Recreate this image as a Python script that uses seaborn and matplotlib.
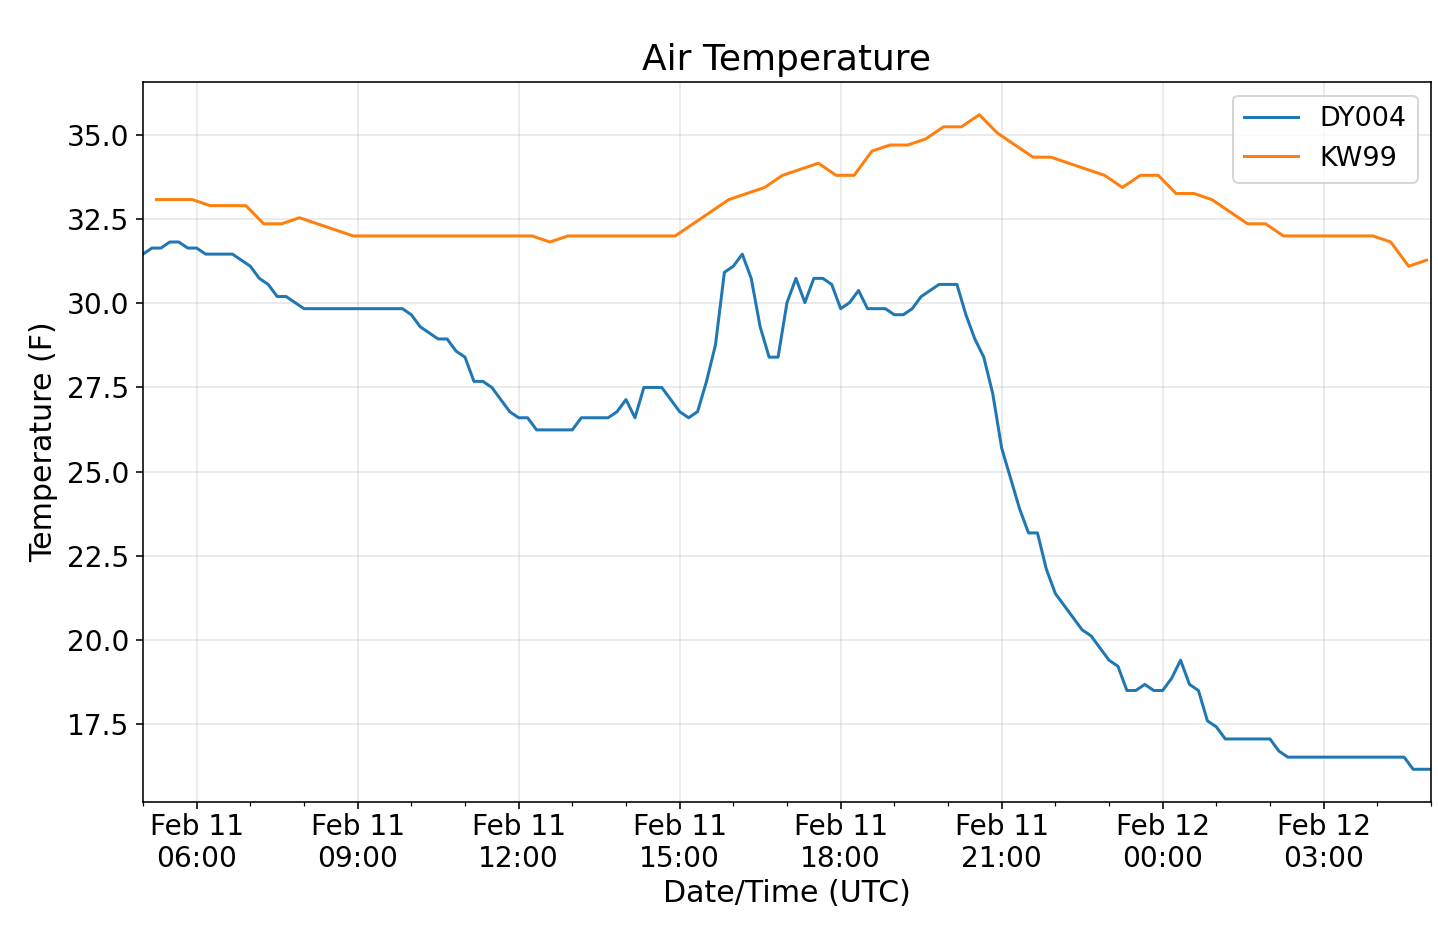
import matplotlib
matplotlib.use("Agg")
import matplotlib.pyplot as plt
import matplotlib.dates as mdates
import seaborn as sns
import pandas as pd

# ---- data -------------------------------------------------------------
dy004_start = "2021-02-11 05:00"
dy004_step = "10min"
dy004_temp = [
    31.46, 31.64, 31.64, 31.82, 31.82, 31.64, 31.64, 31.46, 31.46, 31.46,
    31.46, 31.28, 31.10, 30.74, 30.56, 30.20, 30.20, 30.02, 29.84, 29.84,
    29.84, 29.84, 29.84, 29.84, 29.84, 29.84, 29.84, 29.84, 29.84, 29.84,
    29.66, 29.30, 29.12, 28.94, 28.94, 28.58, 28.40, 27.68, 27.68, 27.50,
    27.14, 26.78, 26.60, 26.60, 26.24, 26.24, 26.24, 26.24, 26.24, 26.60,
    26.60, 26.60, 26.60, 26.78, 27.14, 26.60, 27.50, 27.50, 27.50, 27.14,
    26.78, 26.60, 26.78, 27.68, 28.76, 30.92, 31.10, 31.46, 30.74, 29.30,
    28.40, 28.40, 30.02, 30.74, 30.02, 30.74, 30.74, 30.56, 29.84, 30.02,
    30.38, 29.84, 29.84, 29.84, 29.66, 29.66, 29.84, 30.20, 30.38, 30.56,
    30.56, 30.56, 29.66, 28.94, 28.40, 27.32, 25.70, 24.80, 23.90, 23.18,
    23.18, 22.10, 21.38, 21.02, 20.66, 20.30, 20.12, 19.76, 19.40, 19.22,
    18.50, 18.50, 18.68, 18.50, 18.50, 18.86, 19.40, 18.68, 18.50, 17.60,
    17.42, 17.06, 17.06, 17.06, 17.06, 17.06, 17.06, 16.70, 16.52, 16.52,
    16.52, 16.52, 16.52, 16.52, 16.52, 16.52, 16.52, 16.52, 16.52, 16.52,
    16.52, 16.52, 16.16, 16.16, 16.16,
]

kw99_time = [
    "2021-02-11 05:15", "2021-02-11 05:55", "2021-02-11 06:15", "2021-02-11 06:55",
    "2021-02-11 07:15", "2021-02-11 07:35", "2021-02-11 07:55", "2021-02-11 08:55",
    "2021-02-11 12:15", "2021-02-11 12:35", "2021-02-11 12:55", "2021-02-11 14:55",
    "2021-02-11 15:55", "2021-02-11 16:15", "2021-02-11 16:35", "2021-02-11 16:55",
    "2021-02-11 17:35", "2021-02-11 17:55", "2021-02-11 18:15", "2021-02-11 18:35",
    "2021-02-11 18:55", "2021-02-11 19:15", "2021-02-11 19:35", "2021-02-11 19:55",
    "2021-02-11 20:15", "2021-02-11 20:35", "2021-02-11 20:55", "2021-02-11 21:15",
    "2021-02-11 21:35", "2021-02-11 21:55", "2021-02-11 22:55", "2021-02-11 23:15",
    "2021-02-11 23:35", "2021-02-11 23:55", "2021-02-12 00:15", "2021-02-12 00:35",
    "2021-02-12 00:55", "2021-02-12 01:15", "2021-02-12 01:35", "2021-02-12 01:55",
    "2021-02-12 02:15", "2021-02-12 03:55", "2021-02-12 04:15", "2021-02-12 04:35",
    "2021-02-12 04:55",
]
kw99_temp = [
    33.08, 33.08, 32.90, 32.90,
    32.36, 32.36, 32.54, 32.00,
    32.00, 31.82, 32.00, 32.00,
    33.08, 33.26, 33.44, 33.80,
    34.16, 33.80, 33.80, 34.52,
    34.70, 34.70, 34.88, 35.24,
    35.24, 35.60, 35.06, 34.70,
    34.34, 34.34, 33.80, 33.44,
    33.80, 33.80, 33.26, 33.26,
    33.08, 32.72, 32.36, 32.36,
    32.00, 32.00, 31.82, 31.10,
    31.28,
]

series_names = ["DY004", "KW99"]

# ---- build frames -----------------------------------------------------
dy_times = pd.date_range(dy004_start, periods=len(dy004_temp), freq=dy004_step)
df_dy = pd.DataFrame({"time": dy_times, "temp": dy004_temp})
df_kw = pd.DataFrame({"time": pd.to_datetime(kw99_time), "temp": kw99_temp})

# ---- plot -------------------------------------------------------------
fig = plt.figure(figsize=(1438 / 144, 925 / 144), dpi=144)
ax = fig.add_axes([143 / 1438, 1 - 802 / 925, (1431 - 143) / 1438, (802 - 82) / 925])

sns.lineplot(data=df_dy, x="time", y="temp", ax=ax, color="#1f77b4",
             linewidth=1.5, label=series_names[0])
sns.lineplot(data=df_kw, x="time", y="temp", ax=ax, color="#ff7f0e",
             linewidth=1.5, label=series_names[1])

ax.set_xlim(df_dy["time"].min(), df_dy["time"].max())
ax.set_yticks([17.5, 20.0, 22.5, 25.0, 27.5, 30.0, 32.5, 35.0])

ax.xaxis.set_major_locator(mdates.HourLocator(byhour=range(0, 24, 3)))
ax.xaxis.set_minor_locator(mdates.HourLocator())
ax.xaxis.set_major_formatter(mdates.DateFormatter("%b %d\n%H:%M"))

ax.grid(True, which="major", alpha=0.3)
ax.tick_params(axis="both", which="major", labelsize=14)
ax.tick_params(axis="x", which="major", pad=1.8)

ax.set_title("Air Temperature", fontsize=18)
ax.set_xlabel("Date/Time (UTC)", fontsize=15, labelpad=3)
ax.set_ylabel("Temperature (F)", fontsize=15)
ax.legend(loc="upper right", fontsize=13.5)

fig.savefig("out.png", dpi=144)
